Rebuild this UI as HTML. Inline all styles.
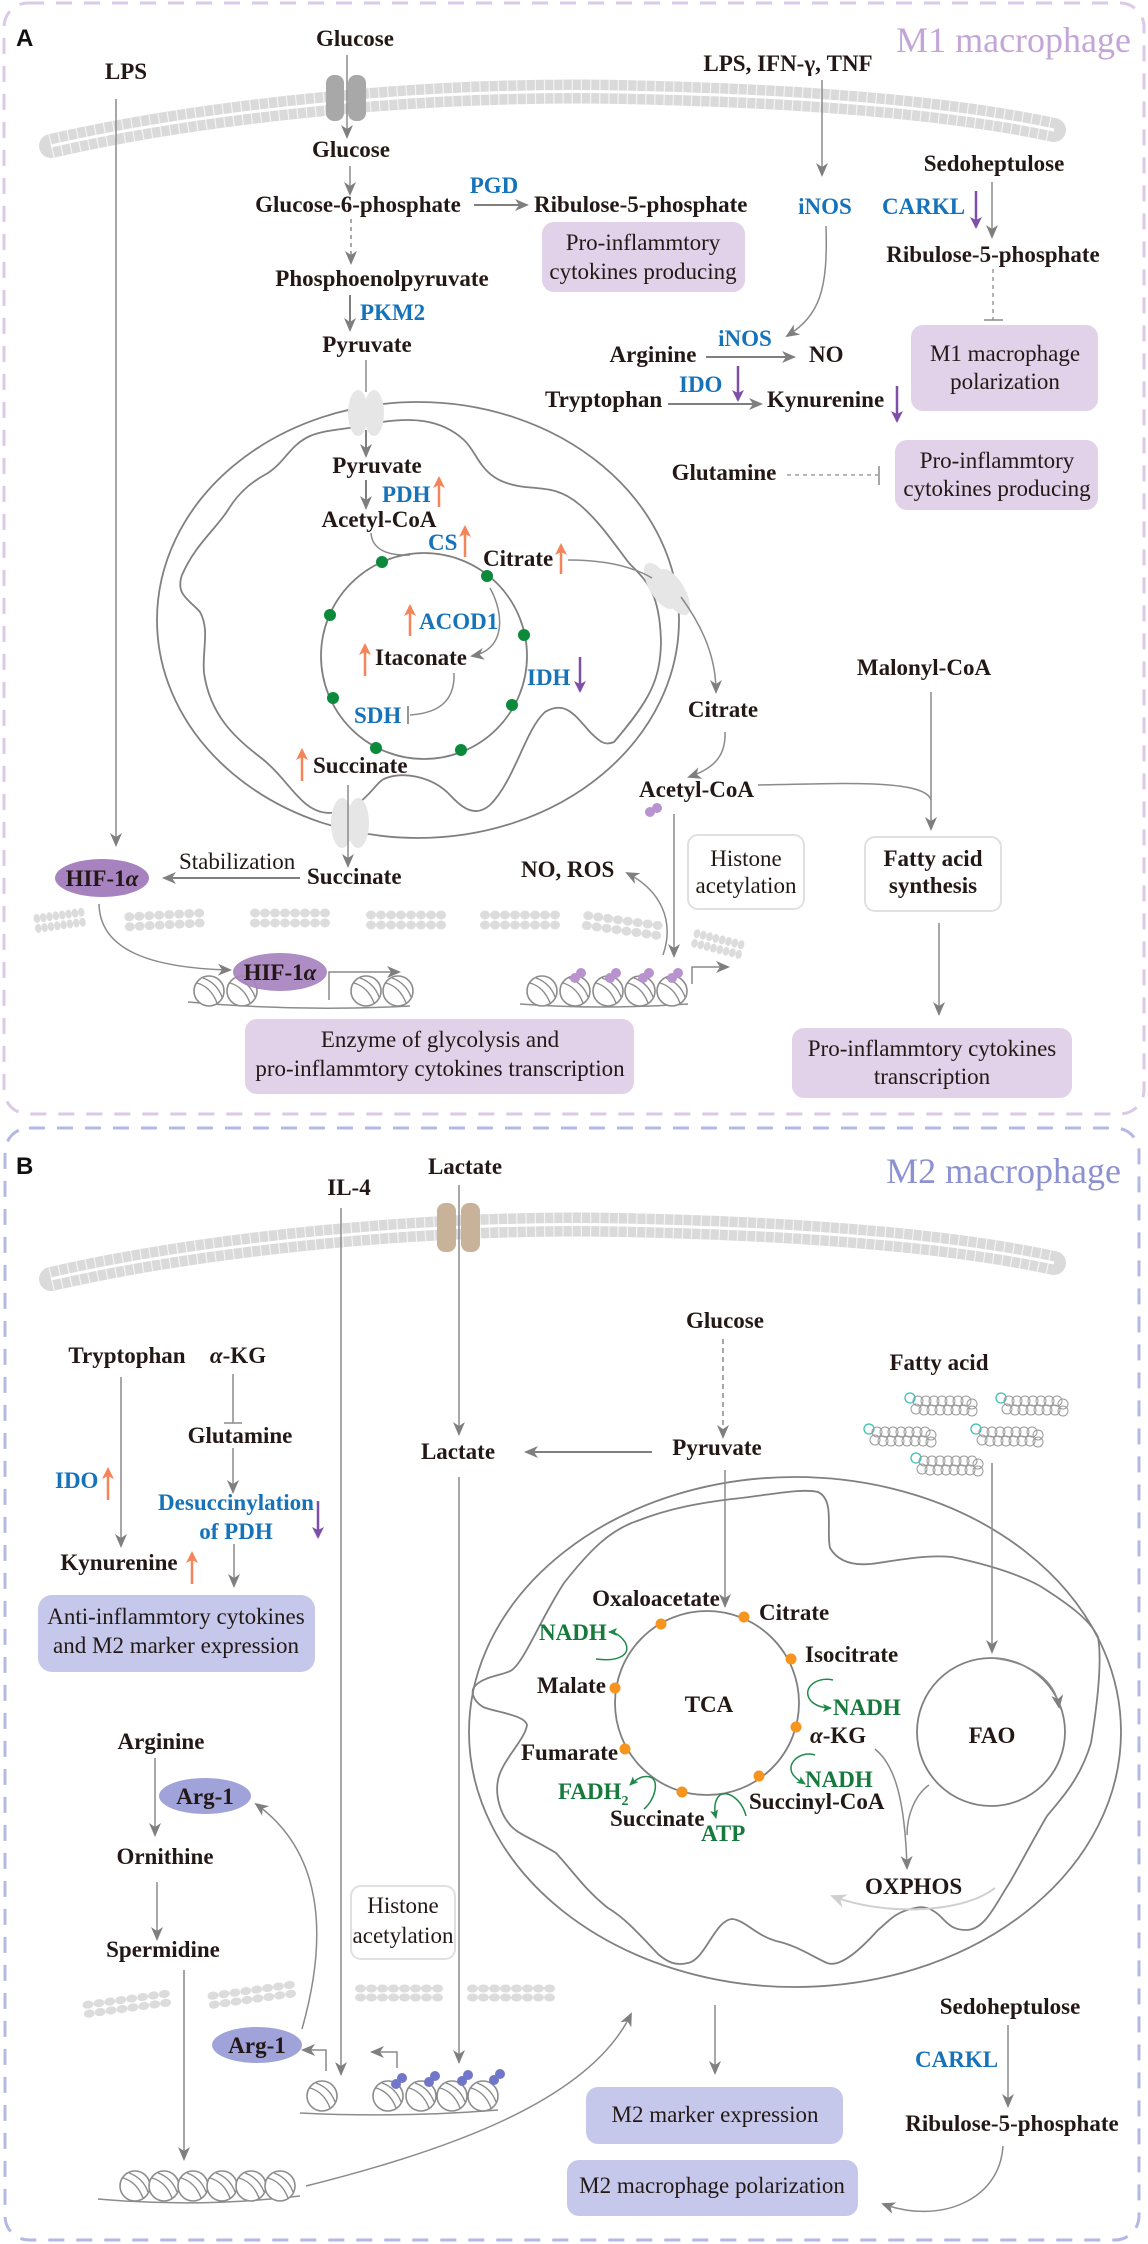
<!DOCTYPE html>
<html><head><meta charset="utf-8">
<style>
html,body{margin:0;padding:0;background:#fff;}
svg{display:block;}
.b{font-family:"Liberation Serif",serif;font-weight:bold;font-size:23px;fill:#231815;}
.r{font-family:"Liberation Serif",serif;font-size:23px;fill:#231815;}
.bl{font-family:"Liberation Serif",serif;font-weight:bold;font-size:23px;fill:#1673ba;}
.gn{font-family:"Liberation Serif",serif;font-weight:bold;font-size:23px;fill:#157a3c;}
.c{text-anchor:middle;}
.ln{fill:none;stroke:#7f7f7f;stroke-width:2;}
.lnt{fill:none;stroke:#8a8a8a;stroke-width:1.5;}
.og{fill:none;stroke:#f4845a;stroke-width:2.5;}
.pp{fill:none;stroke:#7d4fa8;stroke-width:2.5;}
.gr{fill:none;stroke:#1e8a4a;stroke-width:1.5;}
.mito{fill:none;stroke:#808080;stroke-width:1.8;}
</style></head>
<body>
<svg width="1148" height="2244" viewBox="0 0 1148 2244" xmlns="http://www.w3.org/2000/svg">
<defs>
<marker id="ag" markerWidth="14" markerHeight="12" refX="12" refY="6" orient="auto" markerUnits="userSpaceOnUse"><path d="M0,0 L14,6 L0,12 L4,6 z" fill="#7f7f7f"/></marker>
<marker id="ao" markerWidth="12" markerHeight="14" refX="10" refY="6" orient="auto" markerUnits="userSpaceOnUse"><path d="M0,0 L12,6 L0,12 L3,6 z" fill="#f4845a"/></marker>
<marker id="ap" markerWidth="12" markerHeight="14" refX="10" refY="6" orient="auto" markerUnits="userSpaceOnUse"><path d="M0,0 L12,6 L0,12 L3,6 z" fill="#7d4fa8"/></marker>
<marker id="agn" markerWidth="9" markerHeight="8" refX="8" refY="4" orient="auto" markerUnits="userSpaceOnUse"><path d="M0,0 L9,4 L0,8 L2,4 z" fill="#1e8a4a"/></marker>
<marker id="al" markerWidth="16" markerHeight="14" refX="14" refY="7" orient="auto" markerUnits="userSpaceOnUse"><path d="M0,0 L16,7 L0,14 L5,7 z" fill="#cfcfcf"/></marker>
<g id="nuc"><circle cx="0" cy="0" r="15" fill="#fff" stroke="#8c8c8c" stroke-width="1.6"/><path d="M-12,-8 Q2,-4 8,12 M-6,-13 Q8,-8 13,6" fill="none" stroke="#8c8c8c" stroke-width="1.4"/></g>
<g id="lip" fill="#dcdcdc"><ellipse cx="5" cy="5" rx="5" ry="4.5"/><ellipse cx="15" cy="5" rx="5" ry="4.5"/><ellipse cx="25" cy="5" rx="5" ry="4.5"/><ellipse cx="35" cy="5" rx="5" ry="4.5"/><ellipse cx="45" cy="5" rx="5" ry="4.5"/><ellipse cx="55" cy="5" rx="5" ry="4.5"/><ellipse cx="65" cy="5" rx="5" ry="4.5"/><ellipse cx="75" cy="5" rx="5" ry="4.5"/><ellipse cx="5" cy="15" rx="5" ry="4.5"/><ellipse cx="15" cy="15" rx="5" ry="4.5"/><ellipse cx="25" cy="15" rx="5" ry="4.5"/><ellipse cx="35" cy="15" rx="5" ry="4.5"/><ellipse cx="45" cy="15" rx="5" ry="4.5"/><ellipse cx="55" cy="15" rx="5" ry="4.5"/><ellipse cx="65" cy="15" rx="5" ry="4.5"/><ellipse cx="75" cy="15" rx="5" ry="4.5"/></g>
<g id="fa"><circle cx="0" cy="0" r="5" fill="none" stroke="#3cc0b8" stroke-width="1.3"/><g fill="none" stroke="#9a9a9a" stroke-width="1"><circle cx="8" cy="3" r="5"/><circle cx="16" cy="3" r="5"/><circle cx="24" cy="3" r="5"/><circle cx="32" cy="3" r="5"/><circle cx="40" cy="3" r="5"/><circle cx="48" cy="3" r="5"/><circle cx="56" cy="3" r="5"/><circle cx="62" cy="6" r="5"/><circle cx="6" cy="11" r="5"/><circle cx="14" cy="12" r="5"/><circle cx="22" cy="12" r="5"/><circle cx="30" cy="12" r="5"/><circle cx="38" cy="12" r="5"/><circle cx="46" cy="12" r="5"/><circle cx="54" cy="12" r="5"/><circle cx="62" cy="13" r="5"/></g></g>
</defs>

<rect x="4" y="3" width="1140" height="1111" rx="24" fill="none" stroke="#dac9e7" stroke-width="3" stroke-dasharray="16 12"/>
<rect x="5" y="1128" width="1134" height="1112" rx="24" fill="none" stroke="#b4b8e4" stroke-width="3" stroke-dasharray="16 12"/>

<text x="16" y="46" style="font-family:'Liberation Sans',sans-serif;font-weight:bold;font-size:24px;fill:#111">A</text>
<text x="1131" y="52" text-anchor="end" style="font-family:'Liberation Serif',serif;font-size:36px;fill:#c4a5d7">M1 macrophage</text>
<text x="16" y="1174" style="font-family:'Liberation Sans',sans-serif;font-weight:bold;font-size:24px;fill:#111">B</text>
<text x="1121" y="1183" text-anchor="end" style="font-family:'Liberation Serif',serif;font-size:36px;fill:#8c91d2">M2 macrophage</text>

<g>
<path d="M51 146 C 200 112, 420 88, 620 92 S 960 110 1054 130" fill="none" stroke="#dadada" stroke-width="24" stroke-linecap="round"/>
<path d="M51 146 C 200 112, 420 88, 620 92 S 960 110 1054 130" fill="none" stroke="#fff" stroke-width="24" stroke-dasharray="1.2 8" opacity=".7"/>
<path d="M51 146 C 200 112, 420 88, 620 92 S 960 110 1054 130" fill="none" stroke="#fff" stroke-width="3"/>
</g>
<rect x="326" y="75" width="18" height="46" rx="8" fill="#a8a8a8"/>
<rect x="348" y="75" width="18" height="46" rx="8" fill="#a8a8a8"/>

<text class="b c" x="355" y="46">Glucose</text>
<text class="b c" x="126" y="79">LPS</text>
<path class="lnt" d="M116 99 V845" marker-end="url(#ag)"/>
<path class="lnt" d="M347 55 V137" marker-end="url(#ag)"/>
<text class="b c" x="351" y="157">Glucose</text>
<path class="lnt" d="M350 166 V194" marker-end="url(#ag)"/>
<text class="b c" x="358" y="212">Glucose-6-phosphate</text>
<text class="bl c" x="494" y="193">PGD</text>
<path class="ln" d="M474 205 H527" marker-end="url(#ag)"/>
<text class="b" x="534" y="212">Ribulose-5-phosphate</text>
<rect x="542" y="222" width="203" height="70" rx="12" fill="#e1d1e9"/>
<text class="r c" x="643" y="250">Pro-inflammtory</text>
<text class="r c" x="643" y="279">cytokines producing</text>
<path class="lnt" d="M351 219 V263" stroke-dasharray="4 4" marker-end="url(#ag)"/>
<text class="b c" x="382" y="286">Phosphoenolpyruvate</text>
<path class="ln" d="M350 295 V330" marker-end="url(#ag)"/>
<text class="bl" x="360" y="320">PKM2</text>
<text class="b c" x="367" y="352">Pyruvate</text>
<path class="lnt" d="M366 360 V392"/>

<ellipse cx="418" cy="620" rx="261" ry="218" class="mito"/>
<path class="mito" stroke-linejoin="round" d="M382 422 C 410 418, 440 418, 464 440 C 480 455, 480 482, 525 487 C 545 489, 560 488, 580 505 C 600 522, 615 545, 629 563 C 645 580, 660 590, 661 643 C 660 680, 650 700, 614 742 C 605 746, 600 742, 590 732 C 575 715, 565 700, 545 712 C 525 730, 515 780, 490 805 C 475 818, 462 808, 450 795 C 432 776, 400 770, 382 780 C 370 790, 360 812, 329 813 C 300 812, 290 780, 260 757 C 235 738, 210 715, 204 673 C 202 650, 210 630, 200 612 C 190 600, 175 595, 182 575 C 195 545, 215 530, 228 510 C 240 490, 255 480, 268 473 C 285 462, 290 445, 310 436 C 330 428, 350 430, 382 422"/>
<ellipse cx="358" cy="413" rx="10" ry="23" fill="#e6e6e6"/><ellipse cx="374" cy="413" rx="10" ry="23" fill="#e6e6e6"/>
<ellipse cx="660" cy="586" rx="11" ry="26" fill="#e6e6e6" transform="rotate(-30 660 586)"/><ellipse cx="674" cy="592" rx="11" ry="26" fill="#e6e6e6" transform="rotate(-30 674 592)"/>
<ellipse cx="342" cy="823" rx="11" ry="25" fill="#e6e6e6"/><ellipse cx="358" cy="823" rx="11" ry="25" fill="#e6e6e6"/>

<path class="ln" d="M366 430 V456" marker-end="url(#ag)"/>
<text class="b c" x="377" y="473">Pyruvate</text>
<path class="ln" d="M366 480 V508" marker-end="url(#ag)"/>
<text class="bl" x="382" y="502">PDH</text>
<path class="og" d="M439 507 V478" marker-end="url(#ao)"/>
<text class="b c" x="379" y="527">Acetyl-CoA</text>
<text class="bl" x="428" y="550">CS</text>
<path class="og" d="M465 557 V527" marker-end="url(#ao)"/>
<text class="b" x="483" y="566">Citrate</text>
<path class="og" d="M561 574 V545" marker-end="url(#ao)"/>
<path class="lnt" d="M371 533 C 372 548, 385 556, 410 555"/>
<path class="lnt" d="M568 560 C 600 560, 630 565, 652 578"/>
<circle cx="424" cy="656" r="103" class="mito"/>
<g fill="#0a8a3a"><circle cx="382" cy="562" r="6"/><circle cx="487" cy="576" r="6"/><circle cx="330" cy="615" r="6"/><circle cx="524" cy="635" r="6"/><circle cx="333" cy="698" r="6"/><circle cx="512" cy="705" r="6"/><circle cx="376" cy="748" r="6"/><circle cx="461" cy="750" r="6"/></g>
<path class="og" d="M410 636 V606" marker-end="url(#ao)"/>
<text class="bl" x="419" y="629">ACOD1</text>
<path class="lnt" d="M490 588 C 505 615, 505 650, 472 656" marker-end="url(#ag)"/>
<path class="og" d="M365 676 V645" marker-end="url(#ao)"/>
<text class="b" x="375" y="665">Itaconate</text>
<path class="lnt" d="M454 673 C 455 700, 440 713, 410 715"/>
<path d="M408 706 V724" stroke="#8a8a8a" stroke-width="1.8"/>
<text class="bl" x="354" y="723">SDH</text>
<text class="bl" x="527" y="685">IDH</text>
<path class="pp" d="M580 657 V691" marker-end="url(#ap)"/>
<path class="og" d="M302 781 V750" marker-end="url(#ao)"/>
<text class="b" x="313" y="773">Succinate</text>
<path class="lnt" d="M348 785 V866" marker-end="url(#ag)"/>
<text class="b" x="307" y="884">Succinate</text>
<text class="r" x="179" y="869">Stabilization</text>
<path class="ln" d="M300 878 H164" marker-end="url(#ag)"/>
<ellipse cx="102" cy="878" rx="47" ry="19" fill="#a683bf"/>
<text class="b c" x="102" y="886">HIF-1<tspan font-style="italic">α</tspan></text>

<use href="#lip" transform="translate(33,914) rotate(-8) scale(0.64,1)"/>
<use href="#lip" transform="translate(124,912) rotate(-3)"/>
<use href="#lip" transform="translate(250,908)"/>
<use href="#lip" transform="translate(366,910)"/>
<use href="#lip" transform="translate(480,910)"/>
<use href="#lip" transform="translate(584,910) rotate(8)"/>
<use href="#lip" transform="translate(695,928) rotate(14) scale(0.65,1)"/>

<path class="lnt" d="M99 904 C 100 950, 150 968, 230 970" marker-end="url(#ag)"/>
<path d="M188 1002 Q 300 1012 410 1006" fill="none" stroke="#8c8c8c" stroke-width="1.5"/>
<use href="#nuc" x="209" y="991"/><use href="#nuc" x="242" y="991"/>
<ellipse cx="280" cy="972" rx="47" ry="19" fill="#a683bf" opacity=".92"/>
<text class="b c" x="280" y="980">HIF-1<tspan font-style="italic">α</tspan></text>
<use href="#nuc" x="366" y="991"/><use href="#nuc" x="398" y="991"/>
<path class="lnt" d="M329 1000 V972 H399" marker-end="url(#ag)"/>

<path d="M520 1004 Q 600 1010 688 1004" fill="none" stroke="#8c8c8c" stroke-width="1.5"/>
<use href="#nuc" x="542" y="991"/><use href="#nuc" x="575" y="991"/><use href="#nuc" x="608" y="991"/><use href="#nuc" x="640" y="991"/><use href="#nuc" x="672" y="991"/>
<g fill="#b893cf"><circle cx="575" cy="978" r="5"/><circle cx="581" cy="973" r="5"/><circle cx="610" cy="978" r="5"/><circle cx="616" cy="973" r="5"/><circle cx="643" cy="978" r="5"/><circle cx="649" cy="973" r="5"/><circle cx="672" cy="978" r="5"/><circle cx="678" cy="973" r="5"/><circle cx="650" cy="812" r="5"/><circle cx="657" cy="808" r="5"/></g>
<path class="lnt" d="M692 984 V967 H728" marker-end="url(#ag)"/>
<path class="lnt" d="M674 814 V956" marker-end="url(#ag)"/>
<text class="b" x="521" y="877">NO, ROS</text>
<path class="lnt" d="M663 955 C 675 920, 660 890, 627 873" marker-end="url(#ag)"/>
<rect x="688" y="835" width="116" height="74" rx="10" fill="#fff" stroke="#e0e0e0" stroke-width="2"/>
<text class="r c" x="746" y="866">Histone</text>
<text class="r c" x="746" y="893">acetylation</text>
<rect x="865" y="837" width="136" height="74" rx="10" fill="#fff" stroke="#e0e0e0" stroke-width="2"/>
<text class="b c" x="933" y="866">Fatty acid</text>
<text class="b c" x="933" y="893">synthesis</text>
<text class="b c" x="924" y="675">Malonyl-CoA</text>
<path class="lnt" d="M931 692 V829" marker-end="url(#ag)"/>
<text class="b" x="639" y="797">Acetyl-CoA</text>
<path class="lnt" d="M758 785 C 850 783, 925 780, 931 800"/>
<text class="b c" x="723" y="717">Citrate</text>
<path class="lnt" d="M681 597 C 705 630, 716 660, 716 692" marker-end="url(#ag)"/>
<path class="lnt" d="M725 732 C 726 755, 715 768, 689 777" marker-end="url(#ag)"/>
<path class="lnt" d="M939 923 V1014" marker-end="url(#ag)"/>
<rect x="792" y="1028" width="280" height="70" rx="12" fill="#e1d1e9"/>
<text class="r c" x="932" y="1056">Pro-inflammtory cytokines</text>
<text class="r c" x="932" y="1084">transcription</text>
<rect x="245" y="1019" width="389" height="75" rx="12" fill="#e1d1e9"/>
<text class="r c" x="440" y="1047">Enzyme of glycolysis and</text>
<text class="r c" x="440" y="1076">pro-inflammtory cytokines transcription</text>

<text class="b c" x="788" y="71">LPS, IFN-<tspan>γ</tspan>, TNF</text>
<path class="lnt" d="M822 80 V175" marker-end="url(#ag)"/>
<text class="bl c" x="825" y="214">iNOS</text>
<path class="lnt" d="M826 226 C 828 290, 820 315, 787 336" marker-end="url(#ag)"/>
<text class="bl c" x="745" y="346">iNOS</text>
<text class="b c" x="653" y="362">Arginine</text>
<path class="ln" d="M706 357 H794" marker-end="url(#ag)"/>
<text class="b" x="809" y="362">NO</text>
<text class="bl" x="679" y="392">IDO</text>
<path class="pp" d="M738 366 V400" marker-end="url(#ap)"/>
<text class="b" x="545" y="407">Tryptophan</text>
<path class="ln" d="M668 404 H761" marker-end="url(#ag)"/>
<text class="b" x="767" y="407">Kynurenine</text>
<path class="pp" d="M897 386 V421" marker-end="url(#ap)"/>
<text class="b c" x="994" y="171">Sedoheptulose</text>
<path class="lnt" d="M992 182 V237" marker-end="url(#ag)"/>
<text class="bl" x="882" y="214">CARKL</text>
<path class="pp" d="M976 191 V227" marker-end="url(#ap)"/>
<text class="b c" x="993" y="262">Ribulose-5-phosphate</text>
<path d="M993 269 V320" stroke="#8a8a8a" stroke-width="1.3" stroke-dasharray="4 4"/>
<path d="M984 320 H1003" stroke="#8a8a8a" stroke-width="1.5"/>
<rect x="911" y="325" width="187" height="86" rx="12" fill="#e1d1e9"/>
<text class="r c" x="1005" y="361">M1 macrophage</text>
<text class="r c" x="1005" y="389">polarization</text>
<text class="b c" x="724" y="480">Glutamine</text>
<path d="M787 475 H878" stroke="#8a8a8a" stroke-width="1.3" stroke-dasharray="4 4"/>
<path d="M879 466 V485" stroke="#8a8a8a" stroke-width="1.5"/>
<rect x="895" y="440" width="203" height="70" rx="12" fill="#e1d1e9"/>
<text class="r c" x="997" y="468">Pro-inflammtory</text>
<text class="r c" x="997" y="496">cytokines producing</text>

<g transform="translate(0,1133)">
<path d="M51 146 C 200 112, 420 88, 620 92 S 960 110 1054 130" fill="none" stroke="#dadada" stroke-width="24" stroke-linecap="round"/>
<path d="M51 146 C 200 112, 420 88, 620 92 S 960 110 1054 130" fill="none" stroke="#fff" stroke-width="24" stroke-dasharray="1.2 8" opacity=".7"/>
<path d="M51 146 C 200 112, 420 88, 620 92 S 960 110 1054 130" fill="none" stroke="#fff" stroke-width="3"/>
</g>
<rect x="437" y="1203" width="19" height="49" rx="8" fill="#c8b39a"/>
<rect x="461" y="1203" width="19" height="49" rx="8" fill="#c8b39a"/>
<text class="b c" x="465" y="1174">Lactate</text>
<text class="b c" x="349" y="1195">IL-4</text>
<path class="lnt" d="M341 1208 V2074" marker-end="url(#ag)"/>
<path class="lnt" d="M459 1185 V1434" marker-end="url(#ag)"/>

<text class="b c" x="127" y="1363">Tryptophan</text>
<text class="b c" x="238" y="1363"><tspan font-style="italic">α</tspan>-KG</text>
<path class="lnt" d="M121 1377 V1546" marker-end="url(#ag)"/>
<text class="bl" x="55" y="1488">IDO</text>
<path class="og" d="M108 1500 V1469" marker-end="url(#ao)"/>
<path class="lnt" d="M233 1374 V1423"/><path d="M224 1423 H242" stroke="#8a8a8a" stroke-width="1.5"/>
<text class="b c" x="240" y="1443">Glutamine</text>
<path class="lnt" d="M233 1448 V1492" marker-end="url(#ag)"/>
<text class="bl c" x="236" y="1510">Desuccinylation</text>
<text class="bl c" x="236" y="1539">of PDH</text>
<path class="pp" d="M318 1501 V1537" marker-end="url(#ap)"/>
<path class="lnt" d="M234 1544 V1586" marker-end="url(#ag)"/>
<text class="b c" x="119" y="1570">Kynurenine</text>
<path class="og" d="M192 1584 V1553" marker-end="url(#ao)"/>
<rect x="38" y="1595" width="277" height="77" rx="14" fill="#c5c8eb"/>
<text class="r c" x="176" y="1624">Anti-inflammtory cytokines</text>
<text class="r c" x="176" y="1653">and M2 marker expression</text>

<text class="b c" x="458" y="1459">Lactate</text>
<path class="ln" d="M652 1452 H526" marker-end="url(#ag)"/>
<text class="b c" x="717" y="1455">Pyruvate</text>
<text class="b c" x="725" y="1328">Glucose</text>
<path class="lnt" d="M723 1339 V1437" stroke-dasharray="5 4" marker-end="url(#ag)"/>
<text class="b c" x="939" y="1370">Fatty acid</text>
<use href="#fa" x="910" y="1398"/><use href="#fa" x="1001" y="1398"/><use href="#fa" x="869" y="1429"/><use href="#fa" x="976" y="1429"/><use href="#fa" x="916" y="1458"/>
<path class="lnt" d="M459 1477 V2062" marker-end="url(#ag)"/>

<ellipse cx="795" cy="1732" rx="326" ry="255" class="mito"/>
<path class="mito" stroke-linejoin="round" d="M564 1583 C 590 1550, 610 1530, 637 1521 C 670 1508, 700 1503, 732 1499 C 770 1495, 800 1488, 818 1492 C 835 1500, 826 1530, 830 1548 C 840 1565, 860 1566, 878 1563 C 910 1558, 930 1555, 952 1557 C 990 1565, 1020 1575, 1040 1586 C 1070 1605, 1090 1620, 1098 1637 C 1102 1660, 1098 1700, 1091 1743 C 1080 1780, 1060 1800, 1047 1816 C 1030 1845, 1020 1865, 1010 1882 C 995 1905, 985 1930, 966 1930 C 955 1930, 950 1926, 944 1920 C 935 1910, 925 1905, 915 1908 C 895 1912, 890 1920, 878 1930 C 860 1950, 840 1968, 827 1963 C 810 1955, 795 1945, 776 1941 C 755 1935, 745 1920, 732 1919 C 715 1920, 705 1960, 688 1963 C 675 1966, 668 1962, 659 1955 C 640 1935, 625 1918, 608 1908 C 585 1890, 572 1870, 556 1853 C 535 1840, 520 1835, 512 1827 C 500 1815, 495 1795, 498 1780 C 502 1760, 525 1740, 527 1725 C 525 1715, 495 1712, 483 1707 C 472 1700, 470 1690, 476 1685 C 485 1676, 505 1675, 512 1670 C 525 1660, 540 1620, 564 1583"/>
<path class="lnt" d="M725 1470 V1606" marker-end="url(#ag)"/>
<path class="lnt" d="M992 1463 V1652" marker-end="url(#ag)"/>
<circle cx="707" cy="1703" r="92" class="mito"/>
<g fill="#f7941d"><circle cx="661" cy="1624" r="5.5"/><circle cx="744" cy="1617" r="5.5"/><circle cx="791" cy="1659" r="5.5"/><circle cx="615" cy="1688" r="5.5"/><circle cx="796" cy="1727" r="5.5"/><circle cx="625" cy="1749" r="5.5"/><circle cx="759" cy="1776" r="5.5"/><circle cx="682" cy="1792" r="5.5"/></g>
<text class="b c" x="656" y="1606">Oxaloacetate</text>
<text class="b" x="759" y="1620">Citrate</text>
<text class="b" x="805" y="1662">Isocitrate</text>
<text class="gn" x="833" y="1715">NADH</text>
<text class="b" x="810" y="1743"><tspan font-style="italic">α</tspan>-KG</text>
<text class="gn" x="805" y="1787">NADH</text>
<text class="b" x="749" y="1809">Succinyl-CoA</text>
<text class="gn" x="701" y="1841">ATP</text>
<text class="b" x="610" y="1826">Succinate</text>
<text class="gn" x="558" y="1799">FADH<tspan font-size="14" dy="6">2</tspan></text>
<text class="b" x="521" y="1760">Fumarate</text>
<text class="b" x="537" y="1693">Malate</text>
<text class="gn" x="539" y="1640">NADH</text>
<text class="b c" x="709" y="1712">TCA</text>
<path class="gr" d="M596 1659 C 618 1662, 632 1655, 625 1642 C 620 1635, 615 1632, 609 1632" marker-end="url(#agn)"/>
<path class="gr" d="M833 1680 C 815 1676, 800 1690, 812 1702 C 818 1707, 825 1708, 831 1708" marker-end="url(#agn)"/>
<path class="gr" d="M815 1755 C 800 1750, 783 1765, 795 1777 C 799 1781, 802 1782, 805 1784" marker-end="url(#agn)"/>
<path class="gr" d="M746 1816 C 742 1800, 728 1790, 720 1795 C 714 1800, 714 1810, 716 1818" marker-end="url(#agn)"/>
<path class="gr" d="M644 1809 C 655 1800, 660 1780, 650 1777 C 642 1775, 635 1780, 630 1785" marker-end="url(#agn)"/>
<circle cx="991" cy="1732" r="74" class="mito"/>
<text class="b c" x="992" y="1743">FAO</text>
<path class="lnt" d="M992 1658 C 1030 1662, 1055 1680, 1059 1707" marker-end="url(#ag)"/>
<path class="lnt" d="M875 1749 C 895 1765, 905 1800, 907 1868" marker-end="url(#ag)"/>
<path class="lnt" d="M929 1785 C 915 1795, 907 1815, 907 1835"/>
<text class="b" x="865" y="1894">OXPHOS</text>
<path d="M995 1888 C 960 1915, 880 1915, 832 1896" fill="none" stroke="#cfcfcf" stroke-width="2" marker-end="url(#al)"/>

<text class="b c" x="161" y="1749">Arginine</text>
<path class="lnt" d="M155 1758 V1835" marker-end="url(#ag)"/>
<ellipse cx="205" cy="1796" rx="46" ry="18" fill="#9fa3da"/>
<text class="b c" x="205" y="1804">Arg-1</text>
<text class="b c" x="165" y="1864">Ornithine</text>
<path class="lnt" d="M157 1882 V1939" marker-end="url(#ag)"/>
<text class="b c" x="163" y="1957">Spermidine</text>
<path class="lnt" d="M184 1970 V2159" marker-end="url(#ag)"/>
<use href="#lip" transform="translate(82,2001) rotate(-8) scale(1.1,0.9)"/>
<use href="#lip" transform="translate(207,1992) rotate(-8) scale(1.1,0.9)"/>
<use href="#lip" transform="translate(355,1984) scale(1.1,0.9)"/>
<use href="#lip" transform="translate(467,1984) scale(1.1,0.9)"/>
<path d="M98 2199 Q 200 2208 300 2196" fill="none" stroke="#8c8c8c" stroke-width="1.5"/>
<use href="#nuc" x="135" y="2186"/><use href="#nuc" x="164" y="2186"/><use href="#nuc" x="193" y="2186"/><use href="#nuc" x="222" y="2186"/><use href="#nuc" x="251" y="2186"/><use href="#nuc" x="280" y="2186"/>
<path class="lnt" d="M306 2186 C 450 2150, 590 2100, 631 2014" marker-end="url(#ag)"/>
<ellipse cx="257" cy="2045" rx="45" ry="18" fill="#9fa3da"/>
<text class="b c" x="257" y="2053">Arg-1</text>
<path class="lnt" d="M302 2029 C 330 1930, 320 1850, 256 1804" marker-end="url(#ag)"/>
<path class="lnt" d="M326 2071 V2050 H303" marker-end="url(#ag)"/>
<path class="lnt" d="M397 2068 V2052 H372" marker-end="url(#ag)"/>
<path d="M300 2113 Q 400 2118 498 2110" fill="none" stroke="#8c8c8c" stroke-width="1.5"/>
<use href="#nuc" x="322" y="2096"/><use href="#nuc" x="388" y="2096"/><use href="#nuc" x="421" y="2096"/><use href="#nuc" x="452" y="2096"/><use href="#nuc" x="483" y="2096"/>
<g fill="#7176c9"><circle cx="396" cy="2084" r="5"/><circle cx="402" cy="2078" r="5"/><circle cx="429" cy="2082" r="5"/><circle cx="435" cy="2076" r="5"/><circle cx="462" cy="2081" r="5"/><circle cx="468" cy="2075" r="5"/><circle cx="494" cy="2080" r="5"/><circle cx="500" cy="2074" r="5"/></g>
<rect x="351" y="1886" width="104" height="73" rx="10" fill="#fff" stroke="#e0e0e0" stroke-width="2"/>
<text class="r c" x="403" y="1913">Histone</text>
<text class="r c" x="403" y="1943">acetylation</text>

<path class="lnt" d="M715 2005 V2073" marker-end="url(#ag)"/>
<rect x="586" y="2087" width="257" height="57" rx="12" fill="#c5c8eb"/>
<text class="r c" x="715" y="2122">M2 marker expression</text>
<rect x="567" y="2160" width="291" height="56" rx="12" fill="#c5c8eb"/>
<text class="r c" x="712" y="2193">M2 macrophage polarization</text>
<text class="b c" x="1010" y="2014">Sedoheptulose</text>
<path class="lnt" d="M1008 2025 V2106" marker-end="url(#ag)"/>
<text class="bl" x="915" y="2067">CARKL</text>
<text class="b c" x="1012" y="2131">Ribulose-5-phosphate</text>
<path class="lnt" d="M1003 2146 C 1000 2200, 940 2225, 883 2204" marker-end="url(#ag)"/>
</svg>
</body></html>
